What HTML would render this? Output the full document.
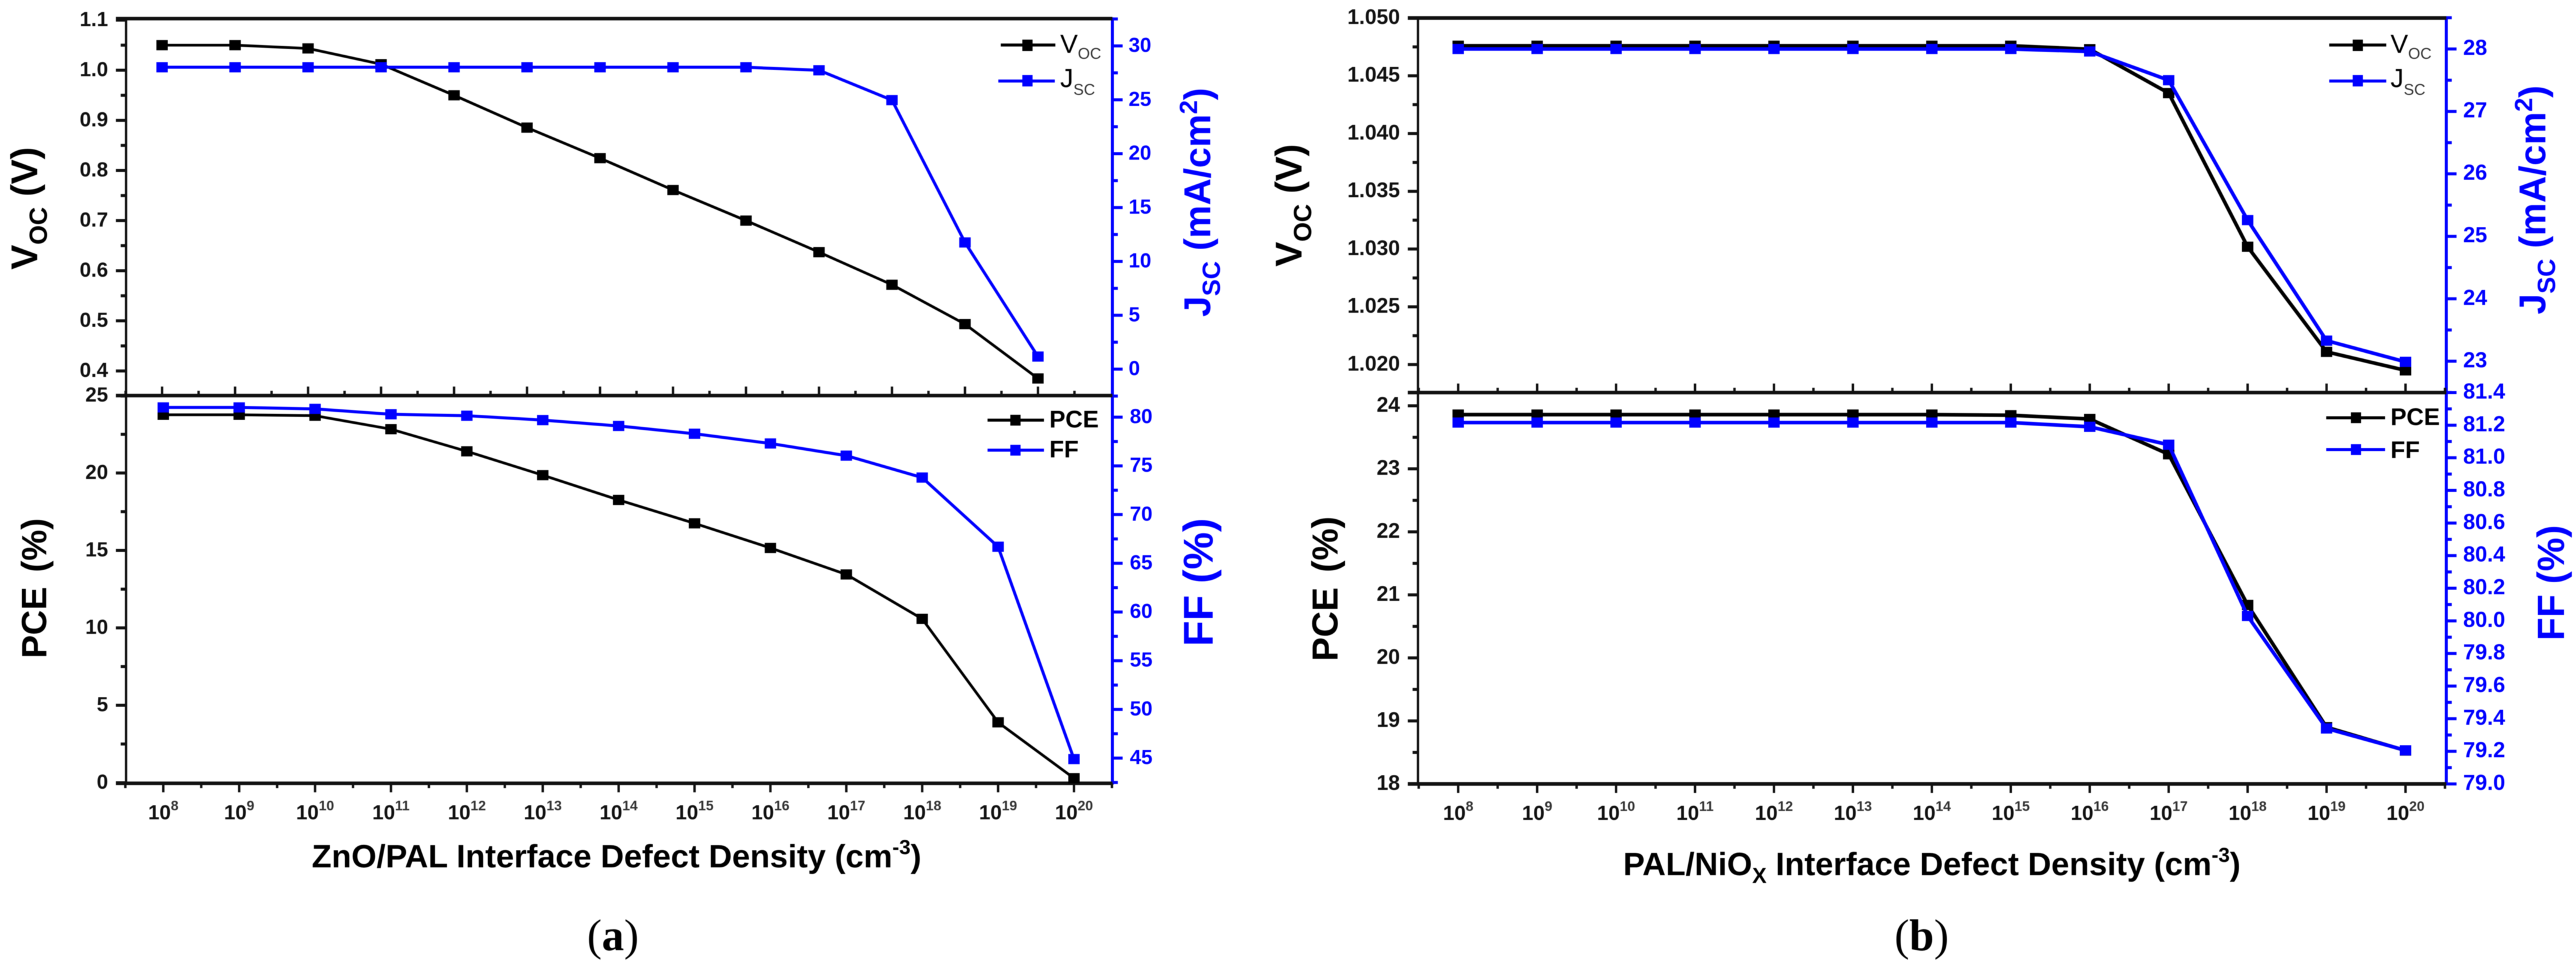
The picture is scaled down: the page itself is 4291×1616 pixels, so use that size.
<!DOCTYPE html>
<html lang="en">
<head>
<meta charset="utf-8">
<title>Interface defect density charts</title>
<style>
html,body{margin:0;padding:0;background:#fff;}
svg{display:block;filter:blur(0.6px);}
text{font-family:"Liberation Sans",sans-serif;}
.cap{font-family:"Liberation Serif",serif;}
</style>
</head>
<body>
<svg id="chart" xmlns="http://www.w3.org/2000/svg" width="4291" height="1616" viewBox="0 0 4291 1616">
<rect width="4291" height="1616" fill="#fff"/>
<g id="marks"></g>

<!-- panel a titles -->
<text transform="translate(62,347) rotate(-90)" text-anchor="middle" font-size="62" font-weight="700">V<tspan font-size="42" dy="16">OC</tspan><tspan dy="-16"> (V)</tspan></text>
<text transform="translate(2016,337) rotate(-90)" text-anchor="middle" font-size="62" font-weight="700" fill="#0000ff">J<tspan font-size="42" dy="16">SC</tspan><tspan dy="-16"> (mA/cm</tspan><tspan font-size="42" dy="-22">2</tspan><tspan dy="22">)</tspan></text>
<text transform="translate(77,980) rotate(-90)" text-anchor="middle" font-size="58" font-weight="700">PCE <tspan dx="8">(%)</tspan></text>
<text transform="translate(2020,970) rotate(-90)" text-anchor="middle" font-size="70" font-weight="700" fill="#0000ff">FF (%)</text>
<text x="1027" y="1445" text-anchor="middle" font-size="54" font-weight="700">ZnO/PAL Interface Defect Density (cm<tspan font-size="34" dy="-22">-3</tspan><tspan dy="22">)</tspan></text>
<text class="cap" x="1021" y="1583" text-anchor="middle" font-size="74">(<tspan font-weight="700">a</tspan>)</text>

<!-- panel a legends -->
<g>
<line x1="1667" x2="1758" y1="75" y2="75" stroke="#000" stroke-width="5"/>
<rect x="1703" y="66" width="17" height="19" fill="#000"/>
<text x="1766" y="88" font-size="44">V<tspan font-size="26" dy="10" fill="#333">OC</tspan></text>
<line x1="1663" x2="1757" y1="135" y2="135" stroke="#0000ff" stroke-width="5"/>
<rect x="1703" y="125" width="17" height="19" fill="#0000ff"/>
<text x="1766" y="145" font-size="44">J<tspan font-size="26" dy="13" fill="#333">SC</tspan></text>
</g>
<g>
<line x1="1645" x2="1739" y1="700" y2="700" stroke="#000" stroke-width="5"/>
<rect x="1683" y="691" width="17" height="18" fill="#000"/>
<text x="1748" y="712" font-size="40" font-weight="700">PCE</text>
<line x1="1645" x2="1739" y1="750" y2="750" stroke="#0000ff" stroke-width="5"/>
<rect x="1683" y="741" width="17" height="18" fill="#0000ff"/>
<text x="1748" y="762" font-size="40" font-weight="700">FF</text>
</g>

<!-- panel b titles -->
<text transform="translate(2168,342) rotate(-90)" text-anchor="middle" font-size="62" font-weight="700">V<tspan font-size="42" dy="16">OC</tspan><tspan dy="-16"> (V)</tspan></text>
<text transform="translate(4240,333) rotate(-90)" text-anchor="middle" font-size="62" font-weight="700" fill="#0000ff">J<tspan font-size="42" dy="16">SC</tspan><tspan dy="-16"> (mA/cm</tspan><tspan font-size="42" dy="-22">2</tspan><tspan dy="22">)</tspan></text>
<text transform="translate(2228,981) rotate(-90)" text-anchor="middle" font-size="60" font-weight="700">PCE <tspan dx="8">(%)</tspan></text>
<text transform="translate(4271,971) rotate(-90)" text-anchor="middle" font-size="63" font-weight="700" fill="#0000ff">FF (%)</text>
<text x="3218" y="1458" text-anchor="middle" font-size="54" font-weight="700">PAL/NiO<tspan font-size="36" dy="13">X</tspan><tspan dy="-13"> Interface Defect Density (cm</tspan><tspan font-size="34" dy="-22">-3</tspan><tspan dy="22">)</tspan></text>
<text class="cap" x="3201" y="1583" text-anchor="middle" font-size="74">(<tspan font-weight="700">b</tspan>)</text>

<!-- panel b legends -->
<g>
<line x1="3880" x2="3975" y1="75" y2="75" stroke="#000" stroke-width="5"/>
<rect x="3919" y="66" width="17" height="19" fill="#000"/>
<text x="3982" y="88" font-size="44">V<tspan font-size="26" dy="10" fill="#333">OC</tspan></text>
<line x1="3880" x2="3975" y1="135" y2="135" stroke="#0000ff" stroke-width="5"/>
<rect x="3919" y="125" width="17" height="19" fill="#0000ff"/>
<text x="3982" y="145" font-size="44">J<tspan font-size="26" dy="13" fill="#333">SC</tspan></text>
</g>
<g>
<line x1="3875" x2="3973" y1="696" y2="696" stroke="#000" stroke-width="5"/>
<rect x="3916" y="687" width="17" height="18" fill="#000"/>
<text x="3982" y="708" font-size="40" font-weight="700">PCE</text>
<line x1="3875" x2="3973" y1="749" y2="749" stroke="#0000ff" stroke-width="5"/>
<rect x="3916" y="740" width="17" height="18" fill="#0000ff"/>
<text x="3982" y="763" font-size="40" font-weight="700">FF</text>
</g>
</svg>

<script>
// Categories: defect density exponents (10^n)
const categories = [8,9,10,11,12,13,14,15,16,17,18,19,20];

// Panel (a) series
const aVoc = [1.05,1.05,1.0435,1.012,0.95,0.8855,0.8245,0.761,0.70,0.637,0.572,0.4935,0.385];
const aJsc = [28.02,28.02,28.02,28.02,28.02,28.02,28.02,28.02,28.02,27.74,24.97,11.76,1.17];
const aPce = [23.76,23.76,23.7,22.83,21.4,19.86,18.26,16.75,15.16,13.45,10.58,3.9,0.29];
const aFf = [81.0,81.0,80.85,80.3,80.15,79.7,79.1,78.3,77.3,76.05,73.8,66.7,44.9];

// Panel (b) series
const bVoc = [1.0476,1.0476,1.0476,1.0476,1.0476,1.0476,1.0476,1.0476,1.0473,1.0435,1.0302,1.0211,1.0195];
const bJsc = [28.0,28.0,28.0,28.0,28.0,28.0,28.0,28.0,27.96,27.5,25.26,23.33,22.99];
const bPce = [23.86,23.86,23.86,23.86,23.86,23.86,23.86,23.85,23.79,23.23,20.84,18.9,18.53];
const bFf = [81.216,81.216,81.216,81.216,81.216,81.216,81.216,81.216,81.19,81.08,80.03,79.34,79.206];

// Tick labels
const aVocTicks = ['0.4','0.5','0.6','0.7','0.8','0.9','1.0','1.1'];
const aJscTicks = ['0','5','10','15','20','25','30'];
const aPceTicks = ['0','5','10','15','20','25'];
const aFfTicks = ['45','50','55','60','65','70','75','80'];
const bVocTicks = ['1.020','1.025','1.030','1.035','1.040','1.045','1.050'];
const bJscTicks = ['23','24','25','26','27','28'];
const bPceTicks = ['18','19','20','21','22','23','24'];
const bFfTicks = ['79.0','79.2','79.4','79.6','79.8','80.0','80.2','80.4','80.6','80.8','81.0','81.2','81.4'];

const NS = 'http://www.w3.org/2000/svg';
const root = document.getElementById('marks');
const BLUE = '#0000ff';

function linear(d0, d1, r0, r1) {
  return function (v) { return r0 + (v - d0) * (r1 - r0) / (d1 - d0); };
}

function make(tag, attrs, parent) {
  const el = document.createElementNS(NS, tag);
  Object.keys(attrs).forEach(function (k) { el.setAttribute(k, attrs[k]); });
  parent.appendChild(el);
  return el;
}

function minorValues(labels, loY, hiY, scale) {
  const nums = labels.map(Number);
  const half = (nums[1] - nums[0]) / 2;
  const out = [];
  for (let i = -1; i <= nums.length; i++) {
    const v = nums[0] + half * (2 * i + 1);
    const y = scale(v);
    if (y >= loY - 1 && y <= hiY + 1) out.push(v);
  }
  return out;
}

function drawYAxis(prefix, side, x, top, bottom, labels, scale, color, size, labelX) {
  const g = make('g', {}, root);
  
  
  const dir = side === 'left' ? -1 : 1;
  const axis = make('line', {x1: x, x2: x, y1: top - 2, y2: bottom + 2, stroke: color, 'stroke-width': side === 'left' ? 4 : 5}, g);
  
  
  labels.forEach(function (lab) {
    const y = scale(Number(lab));
    const tick = make('line', {x1: x, x2: x + dir * 17, y1: y, y2: y, stroke: color, 'stroke-width': 5}, g);
    
    
    const t = make('text', {x: labelX, y: y + 10, 'text-anchor': side === 'left' ? 'end' : 'start', 'font-size': size, 'font-weight': 700, fill: color === BLUE ? BLUE : '#111'}, g);
    
    
    t.textContent = lab;
  });
  minorValues(labels, top, bottom, scale).forEach(function (v) {
    const y = scale(v);
    const tick = make('line', {x1: x, x2: x + dir * 9, y1: y, y2: y, stroke: color, 'stroke-width': 5}, g);
    
    
  });
}

function drawXAxis(prefix, y, x0, x1, scale, dir, withLabels) {
  const g = make('g', {}, root);
  
  
  const axis = make('line', {x1: x0, x2: x1, y1: y, y2: y, stroke: '#111', 'stroke-width': 6}, g);
  
  
  categories.forEach(function (c, i) {
    const x = scale(i);
    const tick = make('line', {x1: x, x2: x, y1: y, y2: y + dir * 15, stroke: '#111', 'stroke-width': 4}, g);
    
    
    const minorBefore = make('line', {x1: scale(i - 0.5), x2: scale(i - 0.5), y1: y, y2: y + dir * 8, stroke: '#111', 'stroke-width': 4}, g);
    
    
    if (withLabels) {
      const t = make('text', {x: x, y: y + 60, 'text-anchor': 'middle', 'font-size': 34, 'font-weight': 700, fill: '#111'}, g);
      
      
      t.appendChild(document.createTextNode('10'));
      const sup = make('tspan', {'font-size': 23, dy: -15, fill: '#333'}, t);
      sup.textContent = String(c);
    }
  });
  const last = make('line', {x1: scale(12.5), x2: scale(12.5), y1: y, y2: y + dir * 8, stroke: '#111', 'stroke-width': 4}, g);
  
  
}

function drawSeries(name, values, xs, ys, color, width, mw, mh) {
  const g = make('g', {}, root);
  
  
  const pts = values.map(function (v, i) { return xs(i) + ',' + ys(v); }).join(' ');
  const line = make('polyline', {points: pts, fill: 'none', stroke: color, 'stroke-width': width, 'stroke-linejoin': 'round'}, g);
  
  
  values.forEach(function (v, i) {
    const pt = make('rect', {x: xs(i) - mw / 2, y: ys(v) - mh / 2, width: mw, height: mh, fill: color}, g);
    
    
  });
}

// Panel (a) scales
const xAUpper = linear(0, 12, 270, 1729);
const xALower = linear(0, 12, 272, 1789);
const yAVoc = linear(1.0, 0.4, 117, 618);
const yAJsc = linear(30, 0, 76.5, 615);
const yAPce = linear(25, 0, 659, 1304);
const yAFf = linear(80, 45, 695, 1263);

// Panel (b) scales
const xB = linear(0, 12, 2429, 4007);
const yBVoc = linear(1.05, 1.02, 30, 607.4);
const yBJsc = linear(28, 23, 81.6, 601.8);
const yBPce = linear(24, 18, 676, 1306);
const yBFf = linear(81.4, 79.0, 654, 1306);

// Panel (a) axes
drawYAxis('a-voc', 'left', 210, 31, 659, aVocTicks, yAVoc, '#111', 34, 180);
drawYAxis('a-jsc', 'right', 1853, 31, 659, aJscTicks, yAJsc, BLUE, 34, 1880);
drawYAxis('a-pce', 'left', 210, 659, 1305, aPceTicks, yAPce, '#111', 34, 180);
drawYAxis('a-ff', 'right', 1853, 659, 1305, aFfTicks, yAFf, BLUE, 34, 1882);
const aTop = make('line', {x1: 193, x2: 1853, y1: 31, y2: 31, stroke: '#111', 'stroke-width': 6}, root);


drawXAxis('a-upper', 659, 193, 1853, xAUpper, -1, false);
drawXAxis('a-lower', 1305, 193, 1853, xALower, 1, true);

// Panel (b) axes
drawYAxis('b-voc', 'left', 2362, 30, 654, bVocTicks, yBVoc, '#111', 35, 2332);
drawYAxis('b-jsc', 'right', 4075, 30, 654, bJscTicks, yBJsc, BLUE, 36, 4103);
drawYAxis('b-pce', 'left', 2362, 654, 1306, bPceTicks, yBPce, '#111', 35, 2332);
drawYAxis('b-ff', 'right', 4075, 654, 1306, bFfTicks, yBFf, BLUE, 36, 4103);
const bTop = make('line', {x1: 2345, x2: 4075, y1: 30, y2: 30, stroke: '#111', 'stroke-width': 6}, root);


drawXAxis('b-upper', 654, 2345, 4075, xB, -1, false);
drawXAxis('b-lower', 1306, 2345, 4075, xB, 1, true);

// Panel (a) series
drawSeries('a-voc', aVoc, xAUpper, yAVoc, '#000', 4.5, 19, 17);
drawSeries('a-jsc', aJsc, xAUpper, yAJsc, BLUE, 5, 19, 17);
drawSeries('a-pce', aPce, xALower, yAPce, '#000', 4.5, 19, 17);
drawSeries('a-ff', aFf, xALower, yAFf, BLUE, 5, 19, 17);

// Panel (b) series
drawSeries('b-voc', bVoc, xB, yBVoc, '#000', 6, 19, 17);
drawSeries('b-jsc', bJsc, xB, yBJsc, BLUE, 6, 19, 17);
drawSeries('b-pce', bPce, xB, yBPce, '#000', 6, 19, 17);
drawSeries('b-ff', bFf, xB, yBFf, BLUE, 6, 19, 17);
</script>
</body>
</html>
